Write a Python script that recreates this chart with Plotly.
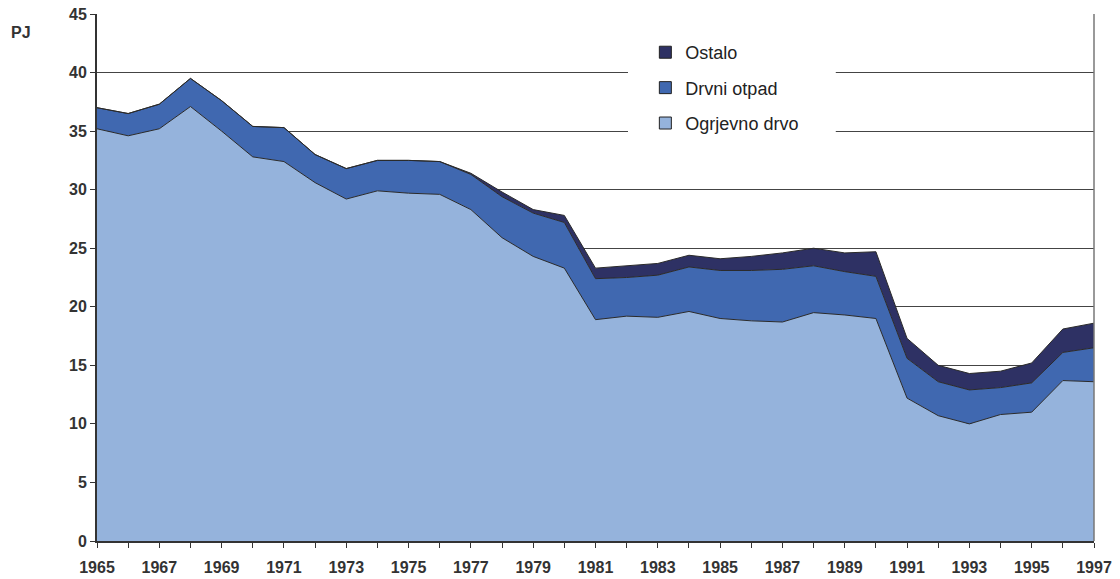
import plotly.graph_objects as go

years = list(range(1965, 1998))
ogrjevno_drvo = [35.2, 34.6, 35.2, 37.1, 35.0, 32.8, 32.4, 30.6, 29.2, 29.9, 29.7, 29.6,
                 28.3, 25.9, 24.3, 23.3, 18.9, 19.2, 19.1, 19.6, 19.0, 18.8, 18.7, 19.5,
                 19.3, 19.0, 12.2, 10.7, 10.0, 10.8, 11.0, 13.7, 13.6]
drvni_otpad = [1.8, 1.9, 2.1, 2.4, 2.6, 2.6, 2.9, 2.4, 2.6, 2.6, 2.8, 2.8,
               3.0, 3.5, 3.7, 3.9, 3.5, 3.3, 3.6, 3.8, 4.1, 4.3, 4.5, 4.0,
               3.7, 3.6, 3.4, 2.9, 2.9, 2.3, 2.5, 2.4, 2.9]
ostalo = [0, 0, 0, 0, 0, 0, 0, 0, 0, 0, 0, 0,
          0.1, 0.4, 0.3, 0.6, 0.9, 1.0, 1.0, 1.0, 1.0, 1.2, 1.4, 1.5,
          1.6, 2.1, 1.7, 1.4, 1.4, 1.4, 1.7, 2.0, 2.1]

series = [
    ("Ogrjevno drvo", ogrjevno_drvo, "#95B3DC"),
    ("Drvni otpad", drvni_otpad, "#4068B0"),
    ("Ostalo", ostalo, "#2E3164"),
]

fig = go.Figure()
for name, vals, col in series:
    fig.add_trace(go.Scatter(
        x=years, y=vals, name=name, stackgroup="one", mode="lines",
        line=dict(color="#2a2a2a", width=1), fillcolor=col,
        showlegend=False, hoverinfo="x+y+name"))

# legend entries with square swatches (top to bottom: Ostalo, Drvni otpad, Ogrjevno drvo)
for name, vals, col in reversed(series):
    fig.add_trace(go.Scatter(
        x=[None], y=[None], name=name, mode="markers", legendgroup=name,
        marker=dict(symbol="square", size=12, color=col,
                    line=dict(color="#222", width=1))))

font_family = "Liberation Sans, Arial, sans-serif"
tick_font = dict(size=16, color="#333", family=font_family, weight="bold")

fig.update_layout(
    width=1120, height=579,
    margin=dict(l=97, r=26, t=14, b=38, autoexpand=False),
    paper_bgcolor="white", plot_bgcolor="white",
    font=dict(family=font_family, color="#333"),
    showlegend=True,
    legend=dict(
        x=0.55, y=0.962, xanchor="left", yanchor="top",
        bgcolor="rgba(0,0,0,0)", traceorder="grouped",
        tracegroupgap=9, itemwidth=30,
        font=dict(size=18, color="#222", family=font_family),
    ),
    xaxis=dict(
        range=[1965, 1997], tick0=1965, dtick=2, showgrid=False,
        ticks="outside", ticklen=5, tickcolor="#333", tickwidth=1,
        showline=True, linecolor="#333", linewidth=2,
        tickfont=tick_font, ticklabelstandoff=6, automargin=False,
        minor=dict(dtick=1, tick0=1965, ticks="outside", ticklen=5, tickcolor="#333", showgrid=False),
        zeroline=False, fixedrange=True,
    ),
    yaxis=dict(
        range=[0, 45], dtick=5, showgrid=True, gridcolor="#444", gridwidth=1,
        ticks="outside", ticklen=5, tickcolor="#333",
        showline=True, linecolor="#333", linewidth=2,
        tickfont=tick_font, automargin=False,
        zeroline=False, fixedrange=True,
    ),
    shapes=[
        dict(type="rect", xref="paper", yref="paper", x0=0.5326, x1=0.741,
             y0=0.761, y1=0.985, fillcolor="white", line=dict(width=0), layer="above"),
        dict(type="line", xref="paper", yref="paper", x0=1, x1=1, y0=0, y1=1,
             line=dict(color="#777", width=1.5), layer="above"),
    ],
    annotations=[
        dict(text="<b>PJ</b>", xref="paper", yref="paper", x=-0.088, y=0.964,
             xanchor="left", yanchor="middle", showarrow=False,
             font=dict(size=16, color="#333", family=font_family)),
    ],
)

fig.write_html("out.html", config={"displayModeBar": False},
               post_script="document.body.style.margin='0';document.body.style.overflow='hidden';")
